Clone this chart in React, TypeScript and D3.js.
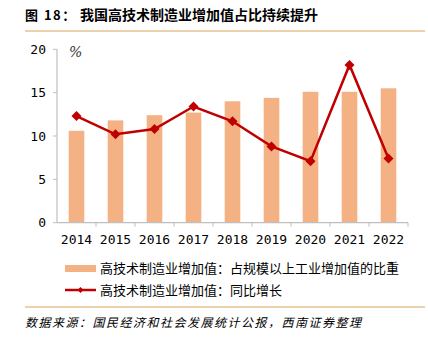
import React from "react";
import * as d3 from "d3";

const years = ["2014", "2015", "2016", "2017", "2018", "2019", "2020", "2021", "2022"];
const shareValues = [10.6, 11.8, 12.4, 12.7, 14.0, 14.4, 15.1, 15.1, 15.5];
const growthValues = [12.3, 10.2, 10.8, 13.4, 11.7, 8.8, 7.1, 18.2, 7.4];
const yTicks = [0, 5, 10, 15, 20];
const titleLabel = "图 18：";
const title = "我国高技术制造业增加值占比持续提升";
const legendBar = "高技术制造业增加值：占规模以上工业增加值的比重";
const legendLine = "高技术制造业增加值：同比增长";
const source = "数据来源：国民经济和社会发展统计公报，西南证券整理";

export default function App() {
  const W = 428, H = 340;
  const left = 57, right = 408, top = 49.3, bottom = 222.7;
  const xb = d3.scaleBand().domain(years).range([left, right]);
  const y = d3.scaleLinear().domain([0, 20]).range([bottom, top]);
  const line = d3.line<number>().x((_, i) => xb(years[i])! + xb.bandwidth() / 2).y((d) => y(d));
  const mono = "'DejaVu Sans Mono', 'Liberation Mono', monospace";
  const cjk = "'Noto Sans CJK SC', sans-serif";
  return (
    <svg width={W} height={H} style={{ position: "absolute", left: 0, top: 0, background: "#fff" }}>
      <text x={25} y={20} fontFamily={cjk} fontWeight="bold" fontSize={13} fill="#000" letterSpacing={1.5}>{titleLabel}</text>
      <text x={80} y={20} fontFamily={cjk} fontWeight="bold" fontSize={14} fill="#000">{title}</text>
      <line x1={25} x2={425} y1={31} y2={31} stroke="#D9A45B" strokeWidth={1.2} />
      {years.map((yr, i) => (
        <rect key={yr} x={xb(yr)! + xb.bandwidth() / 2 - 7.8} width={15.6} y={y(shareValues[i])} height={bottom - y(shareValues[i])} fill="#F4B183" />
      ))}
      <line x1={left} x2={left} y1={top} y2={bottom} stroke="#BFBFBF" strokeWidth={1.2} />
      <line x1={left} x2={right} y1={bottom} y2={bottom} stroke="#BFBFBF" strokeWidth={1.2} />
      {yTicks.map((t) => (
        <g key={t}>
          <line x1={left - 4} x2={left} y1={y(t)} y2={y(t)} stroke="#BFBFBF" />
          <text x={46} y={y(t) + 4.5} textAnchor="end" fontFamily={mono} fontSize={13} fill="#000">{t}</text>
        </g>
      ))}
      {years.map((yr) => (
        <line key={yr} x1={xb(yr)! + xb.bandwidth()} x2={xb(yr)! + xb.bandwidth()} y1={bottom} y2={bottom + 4} stroke="#BFBFBF" />
      ))}
      {years.map((yr) => (
        <text key={yr} x={xb(yr)! + xb.bandwidth() / 2} y={244} textAnchor="middle" fontFamily={mono} fontSize={13} fill="#000">{yr}</text>
      ))}
      <text x={69} y={57} fontFamily="'DejaVu Serif', serif" fontStyle="italic" fontSize={14} fill="#333">%</text>
      <path d={line(growthValues) || ""} fill="none" stroke="#C00000" strokeWidth={2.5} />
      {growthValues.map((v, i) => {
        const cx = xb(years[i])! + xb.bandwidth() / 2, cy = y(v);
        return <path key={i} d={`M${cx},${cy - 5}L${cx + 5},${cy}L${cx},${cy + 5}L${cx - 5},${cy}Z`} fill="#C00000" />;
      })}
      <rect x={65} y={265} width={31} height={7} fill="#F4B183" />
      <text x={100} y={273} fontFamily={cjk} fontSize={13} fill="#000">{legendBar}</text>
      <line x1={65} x2={96} y1={290} y2={290} stroke="#C00000" strokeWidth={2.5} />
      <path d="M80.5,287L83.5,290L80.5,293L77.5,290Z" fill="#C00000" />
      <text x={100} y={295} fontFamily={cjk} fontSize={13} fill="#000">{legendLine}</text>
      <line x1={25} x2={425} y1={307} y2={307} stroke="#D9A45B" strokeWidth={1.2} />
      <text x={25} y={327} fontFamily={cjk} fontStyle="italic" fontSize={12} letterSpacing={1.5} fill="#000">{source}</text>
    </svg>
  );
}
